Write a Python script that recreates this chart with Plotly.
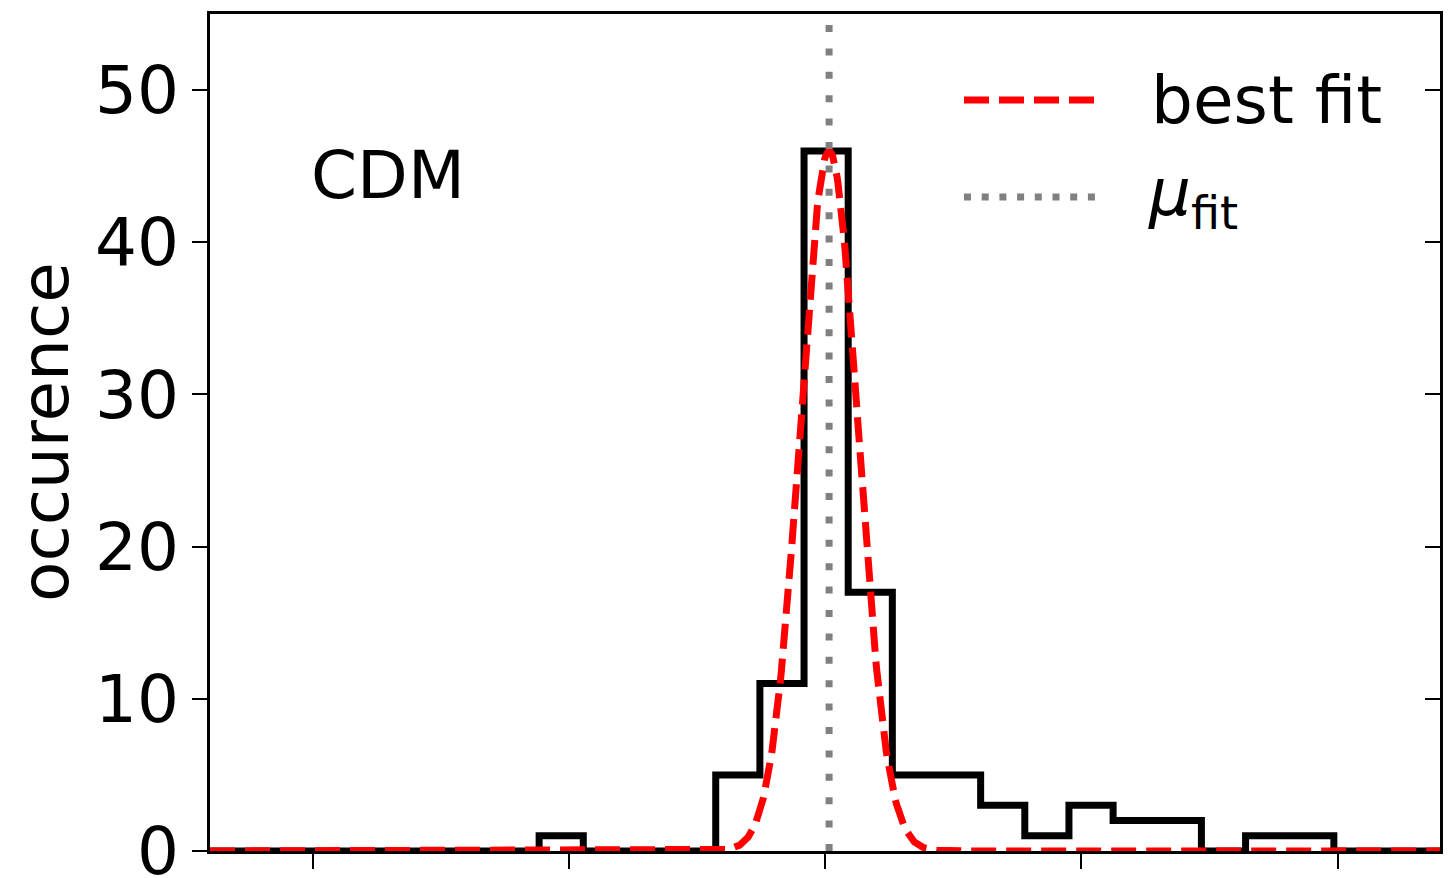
import numpy as np
import plotly.graph_objects as go

# Histogram of occurrences: equal-width bins starting at the first edge
first_edge = -2.494
bin_width = 0.1723
counts = [0, 0, 0, 0, 0, 0, 0, 0, 1, 0, 0, 0, 5, 11, 46, 17, 5, 5, 3, 1,
          3, 2, 2, 0, 1, 1, 0, 0, 0]

# Gaussian best fit parameters
fit_amp = 46.0
fit_mu = 0.016
fit_sigma = 0.113

y_ticks = [0, 10, 20, 30, 40, 50]
x_ticks = [-2, -1, 0, 1, 2]
x_range = [-2.4, 2.4]
y_range = [0, 55]

FONT = "DejaVu Sans"
FS = 66

edges = first_edge + bin_width * np.arange(len(counts) + 1)

# step outline (like an unfilled "step" histogram)
sx, sy = [edges[0]], [0.0]
for i, c in enumerate(counts):
    sx += [edges[i], edges[i + 1]]
    sy += [c, c]
sx.append(edges[-1])
sy.append(0.0)

gx = np.linspace(x_range[0], x_range[1], 1200)
gy = fit_amp * np.exp(-0.5 * ((gx - fit_mu) / fit_sigma) ** 2)

fig = go.Figure()
fig.add_trace(go.Scatter(x=sx, y=sy, mode="lines",
                         line=dict(color="black", width=7),
                         showlegend=False, hoverinfo="skip"))
fig.add_trace(go.Scatter(x=gx, y=gy, mode="lines",
                         line=dict(color="#ff0000", width=7, dash="25px,10px"),
                         showlegend=False, hoverinfo="skip"))
fig.add_trace(go.Scatter(x=[fit_mu, fit_mu], y=y_range, mode="lines",
                         line=dict(color="#808080", width=7, dash="7px,16.4px"),
                         showlegend=False, hoverinfo="skip"))
# empty trace so the right-hand tick axis is drawn
fig.add_trace(go.Scatter(x=[], y=[], yaxis="y2", showlegend=False))

L, R, T, B = 210, 8, 14, 27
W, H = 1448, 878
pw, ph = W - L - R, H - T - B


def px_x(p):
    return (p - L) / pw


def px_y(p):
    return (H - B - p) / ph


axis_common = dict(showgrid=False, zeroline=False, linecolor="black",
                   linewidth=2.5, tickcolor="black", tickwidth=2.2, ticklen=15,
                   automargin=False)

fig.update_layout(
    width=W, height=H,
    margin=dict(l=L, r=R, t=T, b=B, autoexpand=False),
    plot_bgcolor="white", paper_bgcolor="white",
    font=dict(family=FONT, size=FS, color="black"),
    xaxis=dict(range=x_range, tickvals=x_ticks, showticklabels=False,
               ticks="outside", showline=True, mirror=True, **axis_common),
    yaxis=dict(range=y_range, tickvals=y_ticks, ticks="outside",
               showline=True, mirror=True, ticklabeloverflow="allow",
               tickfont=dict(family=FONT, size=FS, color="black"),
               **axis_common),
    yaxis2=dict(range=y_range, tickvals=y_ticks, ticks="inside",
                overlaying="y", side="right", showticklabels=False,
                showline=False, **{k: v for k, v in axis_common.items()
                                   if k not in ("linecolor", "linewidth")}),
)

# legend drawn by hand: long line samples with text to the right
fig.add_shape(type="line", xref="paper", yref="paper",
              x0=px_x(964), x1=px_x(1094), y0=px_y(100), y1=px_y(100),
              line=dict(color="#ff0000", width=7, dash="25px,10px"))
fig.add_shape(type="line", xref="paper", yref="paper",
              x0=px_x(964), x1=px_x(1095), y0=px_y(197), y1=px_y(197),
              line=dict(color="#808080", width=7, dash="7px,10.7px"))

fig.add_annotation(text="best fit", xref="paper", yref="paper",
                   x=px_x(1149), y=px_y(100), xanchor="left", yanchor="middle",
                   showarrow=False, font=dict(family=FONT, size=FS, color="black"))
fig.add_annotation(text="<i>μ</i><sub>fit</sub>", xref="paper", yref="paper",
                   x=px_x(1146), y=px_y(197), xanchor="left", yanchor="middle",
                   showarrow=False, font=dict(family=FONT, size=FS, color="black"))
fig.add_annotation(text="CDM", xref="paper", yref="paper",
                   x=px_x(388), y=px_y(175), xanchor="center", yanchor="middle",
                   showarrow=False, font=dict(family=FONT, size=FS, color="black"))
fig.add_annotation(text="occurence", xref="paper", yref="paper",
                   x=px_x(45), y=px_y(432), xanchor="center", yanchor="middle",
                   textangle=-90, showarrow=False,
                   font=dict(family=FONT, size=FS, color="black"))

fig.write_html("out.html")
